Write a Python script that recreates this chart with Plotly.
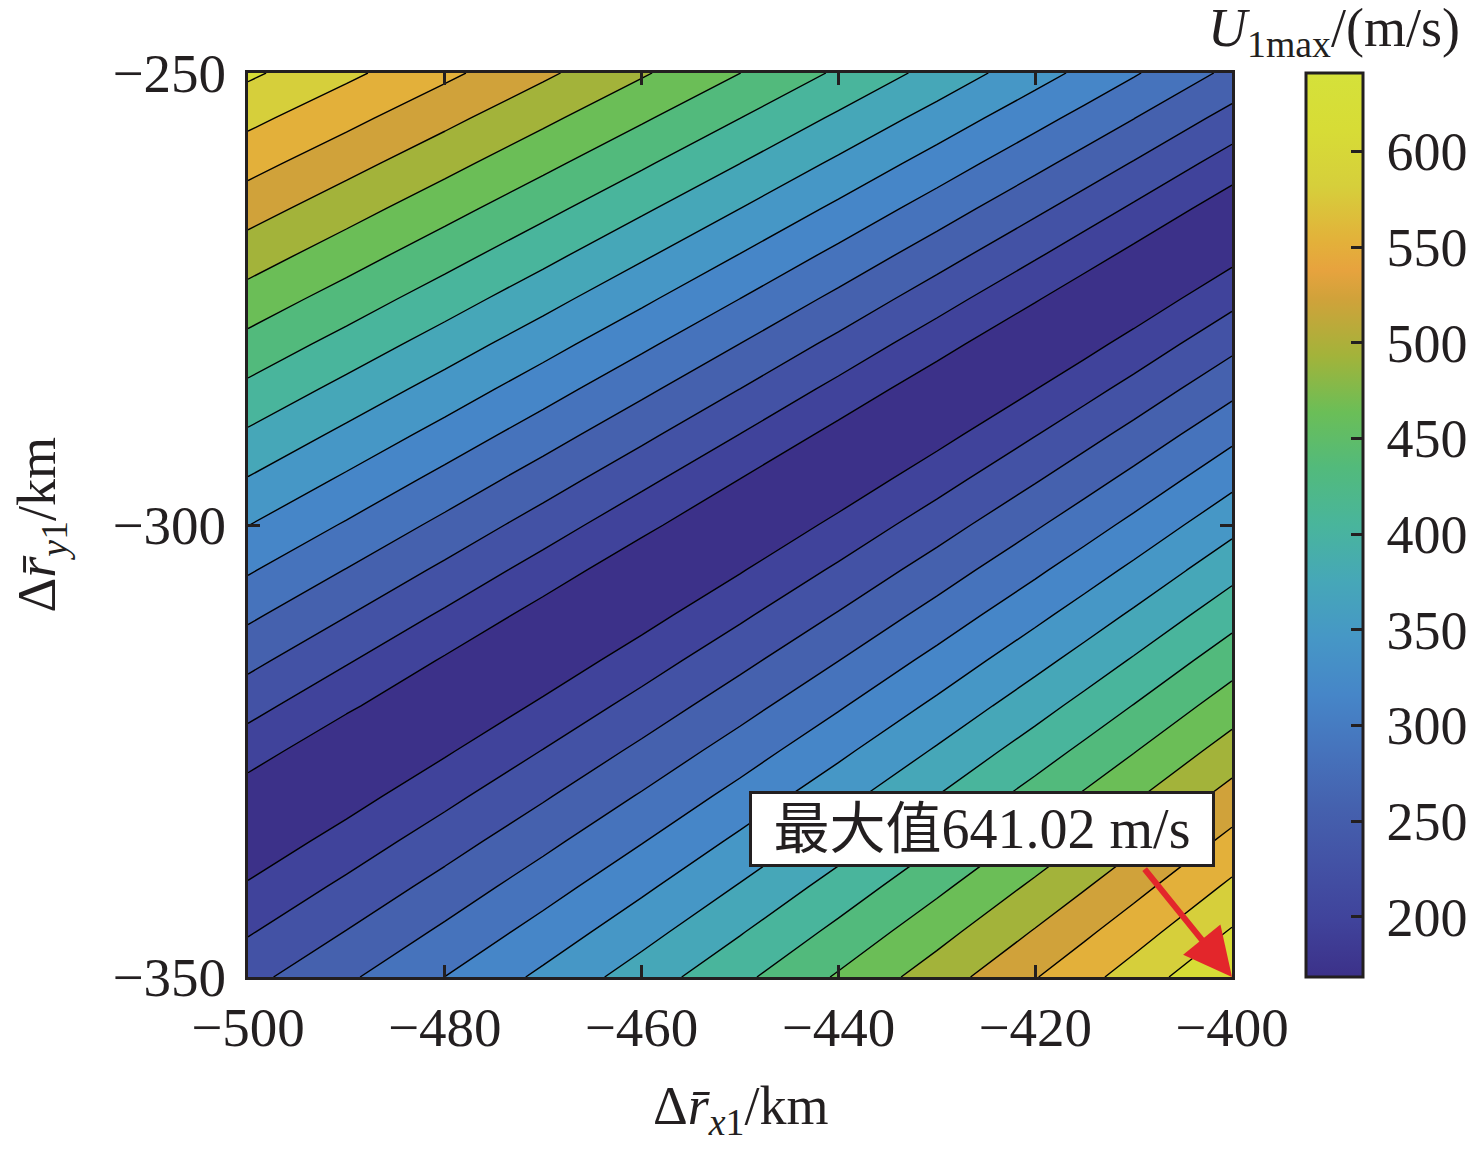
import plotly.graph_objects as go
from plotly.colors import sample_colorscale

# grid (km); one extra column where the valley is narrow
x_km = [-500, -490, -480, -470, -460, -450, -440, -430, -420, -415, -410, -400]
y_km = [-350, -345, -340, -335, -330, -325, -320, -315, -310, -305, -300,
        -295, -290, -285, -280, -275, -270, -265, -260, -255, -250]

# U1max (m/s), one row per y value, estimated from the contour lines
u1max = [
    [248.5, 281.9, 316.4, 352.1, 389.2, 427.5, 467.2, 508.3, 550.9, 572.7, 594.9, 641.0],
    [225.0, 258.1, 292.3, 327.8, 364.5, 402.6, 442.0, 482.8, 525.1, 546.8, 568.9, 614.2],
    [201.4, 234.2, 268.1, 303.3, 339.7, 377.5, 416.6, 457.1, 499.1, 520.6, 542.6, 587.7],
    [177.7, 210.1, 243.8, 278.6, 314.7, 352.1, 390.9, 431.2, 472.9, 494.3, 516.1, 560.9],
    [184.1, 185.9, 219.2, 253.7, 289.5, 326.6, 365.1, 405.0, 446.4, 467.7, 489.4, 533.9],
    [211.1, 175.6, 194.5, 228.7, 264.1, 300.9, 339.1, 378.7, 419.8, 440.9, 462.4, 506.6],
    [238.2, 203.1, 169.5, 203.4, 238.5, 275.0, 312.9, 352.1, 392.9, 413.9, 435.2, 479.1],
    [265.2, 230.6, 194.8, 178.0, 212.8, 248.9, 286.4, 325.4, 365.8, 386.6, 407.8, 451.4],
    [292.2, 258.1, 222.8, 186.2, 186.8, 222.6, 259.7, 298.3, 338.4, 359.1, 380.1, 423.3],
    [319.3, 285.6, 250.8, 214.7, 177.2, 196.0, 232.8, 271.1, 310.8, 331.3, 352.1, 395.1],
    [346.3, 313.2, 278.8, 243.2, 206.3, 169.2, 205.7, 243.6, 283.0, 303.2, 323.9, 366.5],
    [373.4, 340.7, 306.8, 271.7, 235.3, 197.5, 178.3, 215.8, 254.8, 274.9, 295.4, 337.7],
    [400.4, 368.2, 334.9, 300.3, 264.4, 227.2, 188.5, 187.8, 226.5, 246.4, 266.7, 308.6],
    [427.5, 395.7, 362.9, 328.8, 293.5, 256.8, 218.7, 179.0, 197.8, 217.5, 237.6, 279.1],
    [454.5, 423.3, 390.9, 357.3, 322.5, 286.4, 248.9, 209.8, 169.2, 188.4, 208.3, 249.4],
    [481.5, 450.8, 418.9, 385.9, 351.6, 316.0, 279.1, 240.6, 200.6, 180.0, 178.6, 219.4],
    [508.6, 478.3, 446.9, 414.4, 380.7, 345.6, 309.2, 271.4, 232.1, 211.8, 191.1, 189.0],
    [535.6, 505.8, 474.9, 442.9, 409.7, 375.3, 339.4, 302.2, 263.5, 243.5, 223.1, 181.1],
    [562.7, 533.3, 503.0, 471.5, 438.8, 404.9, 369.6, 333.0, 294.9, 275.2, 255.2, 213.8],
    [589.7, 560.9, 531.0, 500.0, 467.9, 434.5, 399.8, 363.8, 326.3, 307.0, 287.3, 246.6],
    [616.7, 588.4, 559.0, 528.5, 496.9, 464.1, 430.0, 394.6, 357.7, 338.7, 319.3, 279.3],
]

u_min = 168.6
u_max = 641.02
x_ticks = [-500, -480, -460, -440, -420, -400]
y_ticks = [-350, -300, -250]
cbar_ticks = [200, 250, 300, 350, 400, 450, 500, 550, 600]
max_label = "最大值641.02 m/s"

# colours sampled off the reference colour bar
cb_values = [168.6, 198.1, 227.7, 257.2, 286.7, 316.2, 345.8, 375.3, 404.8,
             434.3, 463.9, 493.4, 522.9, 538.0, 552.4, 582.0, 611.5, 641.02]
cb_colors = ['#3C3189', '#40439B', '#4352A5', '#4561AE', '#4673BC', '#4686C8',
             '#4697C6', '#46A7B8', '#49B59C', '#52BA7C', '#6BBE57', '#A3B33A',
             '#D0A23A', '#E7A33E', '#E3B03A', '#D6CF3B', '#D7DC36', '#D5E13A']
bar_scale = [[(v - u_min) / (u_max - u_min), c] for v, c in zip(cb_values, cb_colors)]

n_bands = 16
step = (u_max - u_min) / n_bands
# each filled band takes the colour of its lower level
band_cols = sample_colorscale(bar_scale, [j / n_bands for j in range(n_bands)])
band_scale = [[j / (n_bands - 1), c] for j, c in enumerate(band_cols)]

serif = "Liberation Serif, Times New Roman, Noto Sans CJK SC, serif"
ink = '#231F20'

fig = go.Figure()
fig.add_trace(go.Contour(
    x=x_km, y=y_km, z=u1max,
    autocontour=False,
    contours=dict(start=u_min + step, end=u_max - step, size=step, coloring='fill'),
    colorscale=band_scale,
    line=dict(color='black', width=1.4, smoothing=0),
    showscale=False,
    hoverinfo='skip',
))

# continuous colour bar like the original
fig.add_trace(go.Scatter(
    x=[None, None], y=[None, None], mode='markers', showlegend=False, hoverinfo='skip',
    marker=dict(color=[u_min, u_max], cmin=u_min, cmax=u_max, colorscale=bar_scale,
                showscale=True,
                colorbar=dict(thickness=57, thicknessmode='pixels', len=1, lenmode='fraction',
                              x=1.0757, xanchor='left', xpad=0, y=0.5, yanchor='middle', ypad=0,
                              outlinewidth=3, outlinecolor=ink,
                              ticks='inside', ticklen=13, tickwidth=2.5, tickcolor=ink,
                              tickvals=cbar_ticks,
                              ticktext=['\u2009' + str(t) for t in cbar_ticks],
                              tickfont=dict(family=serif, size=54, color=ink))),
))

axis_style = dict(showgrid=False, zeroline=False, showline=True, linewidth=3, linecolor=ink,
                  mirror='ticks', ticks='inside', ticklen=12, tickwidth=2.5, tickcolor=ink,
                  tickfont=dict(family=serif, size=55, color=ink))
fig.update_xaxes(range=[-500, -400], tickvals=x_ticks, **axis_style)
fig.update_yaxes(range=[-350, -250], tickvals=y_ticks, ticklabelstandoff=8, **axis_style)

fig.add_annotation(text="Δ<i>r̄</i><sub><i>x</i>1</sub>/km", xref='paper', yref='paper',
                   x=0.5, y=-0.147, showarrow=False, xanchor='center', yanchor='middle',
                   font=dict(family=serif, size=54, color=ink))
fig.add_annotation(text="Δ<i>r̄</i><sub><i>y</i>1</sub>/km", xref='paper', yref='paper',
                   x=-0.211, y=0.5, showarrow=False, textangle=-90, xanchor='center', yanchor='middle',
                   font=dict(family=serif, size=54, color=ink))
fig.add_annotation(text="<i>U</i><sub>1max</sub>/(m/s)", xref='paper', yref='paper',
                   x=1.1037, y=1.0454, showarrow=False, xanchor='center', yanchor='middle',
                   font=dict(family=serif, size=54, color=ink))

fig.add_annotation(text=max_label, xref='x', yref='y', x=-425.4, y=-333.6, showarrow=False,
                   bgcolor='white', bordercolor=ink, borderwidth=3, borderpad=4, width=452,
                   font=dict(family=serif, size=56, color=ink))
fig.add_annotation(text='', xref='x', yref='y', x=-400, y=-350, axref='x', ayref='y',
                   ax=-409.0, ay=-337.9, showarrow=True, arrowcolor='#E3262B',
                   arrowwidth=6, arrowhead=2, arrowsize=1.6, standoff=0)

# the page body adds 8 px, so the margins are pulled in by that much;
# autoexpand off keeps the colour bar from squeezing the plot
fig.update_layout(width=1476, height=1158, paper_bgcolor='white', plot_bgcolor='white',
                  margin=dict(l=240, r=252, t=65, b=189, autoexpand=False), showlegend=False)

fig.write_html("out.html")
